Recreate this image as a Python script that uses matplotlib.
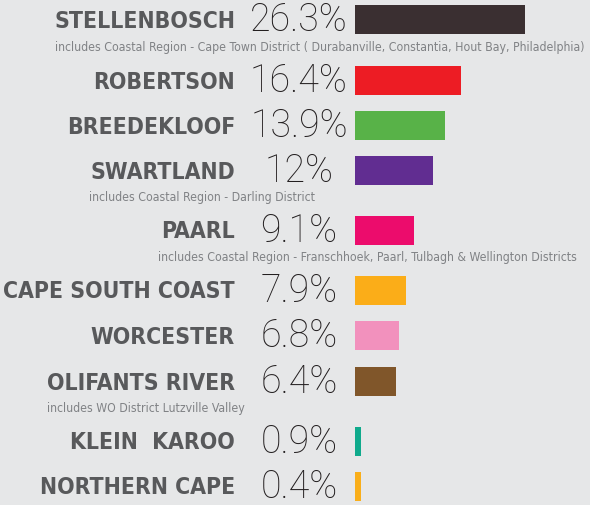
import numpy as np
import matplotlib
matplotlib.use("Agg")
import matplotlib.pyplot as plt

# wine regions, share of vineyard area (%)
regions = ["STELLENBOSCH", "ROBERTSON", "BREEDEKLOOF", "SWARTLAND", "PAARL",
           "CAPE SOUTH COAST", "WORCESTER", "OLIFANTS RIVER", "KLEIN  KAROO",
           "NORTHERN CAPE"]
shares = [26.3, 16.4, 13.9, 12, 9.1, 7.9, 6.8, 6.4, 0.9, 0.4]
share_labels = ["26.3%", "16.4%", "13.9%", "12%", "9.1%", "7.9%", "6.8%",
                "6.4%", "0.9%", "0.4%"]
notes = ["includes Coastal Region - Cape Town District ( Durabanville, Constantia, Hout Bay, Philadelphia)",
         "", "", "includes Coastal Region - Darling District",
         "includes Coastal Region - Franschhoek, Paarl, Tulbagh & Wellington Districts",
         "", "", "includes WO District Lutzville Valley", "", ""]
colors = ["#3a2f31", "#ed1c24", "#58b248", "#612d91", "#ec0c6c",
          "#fbad18", "#f291bd", "#80562a", "#0faa8c", "#f9ae1a"]

# layout (pixel units)
row_y = [20, 81, 126, 171, 231, 291, 336, 382, 442, 487]
note_x = [55, 0, 0, 89, 158, 0, 0, 47, 0, 0]
note_dy = 27
bar_left = 355
px_per_pct = 6.46
min_bar = 0.9

fig = plt.figure(figsize=(5.9, 5.06), dpi=100)
fig.patch.set_facecolor("#e6e7e8")
ax = fig.add_axes([0, 0, 1, 1])
ax.set_facecolor("#e6e7e8")
ax.set_xlim(0, 590)
ax.set_ylim(506, 0)
ax.axis("off")

widths = np.maximum(np.array(shares), min_bar) * px_per_pct
ax.barh(row_y, widths, left=bar_left, height=29, color=colors)

for y, name, lab, note, nx in zip(row_y, regions, share_labels, notes, note_x):
    ax.text(235, y + 1, name, ha="right", va="center", fontsize=16.5,
            fontweight="bold", fontstretch="condensed", family="DejaVu Sans",
            color="#58595b")
    ax.text(299, y, lab, ha="center", va="center", fontsize=27,
            fontweight="light", family="Roboto", color="#231f20")
    if note:
        ax.text(nx, y + note_dy, note, ha="left", va="center", fontsize=8.85,
                fontstretch="condensed", family="DejaVu Sans", color="#808285")

fig.savefig("out.png", dpi=100, facecolor=fig.get_facecolor())
